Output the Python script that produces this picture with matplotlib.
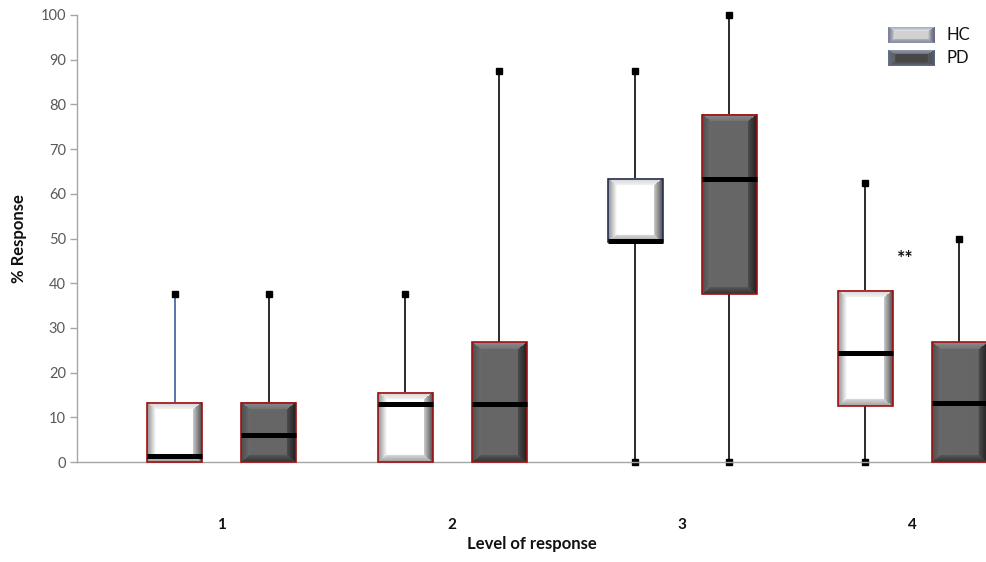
import numpy as np
import matplotlib
matplotlib.use('Agg')
import matplotlib.pyplot as plt
from matplotlib.patches import Rectangle

levels = ['1', '2', '3', '4']
series = ['HC', 'PD']

hc_min = [0, 0, 0, 0]
hc_q1 = [0, 0, 49.2, 12.5]
hc_med = [1.3, 13.0, 49.4, 24.4]
hc_q3 = [13.3, 15.5, 63.3, 38.3]
hc_max = [37.5, 37.5, 87.5, 62.5]

pd_min = [0, 0, 0, 0]
pd_q1 = [0, 0, 37.5, 0]
pd_med = [6.0, 13.0, 63.3, 13.2]
pd_q3 = [13.3, 26.8, 77.7, 26.8]
pd_max = [37.5, 87.5, 100, 50]

sig_label = '**'
sig_level = 4
sig_y = 45.6

plt.rcParams['font.family'] = ['Lato', 'DejaVu Sans']

W, H = 986, 562
fig = plt.figure(figsize=(W / 100, H / 100), dpi=100)
ax_l, ax_r, ax_t, ax_b = 77, 986, 15, 462
ax = fig.add_axes([ax_l / W, 1 - ax_b / H, (ax_r - ax_l) / W, (ax_b - ax_t) / H])
xmin, xmax = 0.37, 4.32
ax.set_xlim(xmin, xmax)
ax.set_ylim(0, 100)

px_per_x = (ax_r - ax_l) / (xmax - xmin)
px_per_y = (ax_b - ax_t) / 100.0

STYLE = {
    'HC': dict(center=1.0, top=(0.95, 0.82), left=(1.0, 0.55), right=(0.80, 0.30), bottom=(0.85, 0.62)),
    'PD': dict(center=0.40, top=(0.45, 0.55), left=(0.42, 0.30), right=(0.30, 0.12), bottom=(0.34, 0.20)),
}


def bevel_img(wpx, hpx, st, bx=9, by=7, tint=None):
    w = max(int(round(wpx)), 2)
    h = max(int(round(hpx)), 2)
    u = np.arange(w) + 0.5
    v = np.arange(h) + 0.5
    U, V = np.meshgrid(u, v)
    bxx = min(bx, w / 2)
    byy = min(by, h / 2)
    d = np.stack([V / byy, U / bxx, (w - U) / bxx, (h - V) / byy])
    face = np.argmin(d, axis=0)
    t = np.clip(np.min(d, axis=0), 0, 1)
    img = np.full((h, w), st['center'], dtype=float)
    keys = ['top', 'left', 'right', 'bottom']
    for k, key in enumerate(keys):
        inner, outer = st[key]
        m = (face == k) & (t < 1)
        img[m] = outer + (inner - outer) * t[m]
    rgb = np.dstack([img, img, img])
    if tint is not None:
        edge = (1 - t)[..., None]
        rgb = rgb * (1 - 0.6 * edge) + np.array(tint)[None, None, :] * 0.6 * edge
    return np.clip(rgb, 0, 1)


box_half = 27.5 / px_per_x
offset = 47 / px_per_x

data = {
    'HC': (hc_min, hc_q1, hc_med, hc_q3, hc_max),
    'PD': (pd_min, pd_q1, pd_med, pd_q3, pd_max),
}

for si, name in enumerate(series):
    mins, q1s, meds, q3s, maxs = data[name]
    for i in range(len(levels)):
        xc = (i + 1) + (-offset if si == 0 else offset)
        x0, x1 = xc - box_half, xc + box_half
        wcol = '#4a6aa5' if (name == 'HC' and i == 0) else '#1a1a1a'
        ax.plot([xc, xc], [q3s[i], maxs[i]], color=wcol, lw=1.3, zorder=1, clip_on=False)
        ax.plot([xc], [maxs[i]], marker='s', ms=3.8, color='black', zorder=1.5, clip_on=False)
        if q1s[i] > mins[i]:
            ax.plot([xc, xc], [mins[i], q1s[i]], color=wcol, lw=1.3, zorder=1, clip_on=False)
            ax.plot([xc], [mins[i]], marker='s', ms=3.8, color='black', zorder=1.5, clip_on=False)
        hpx = (q3s[i] - q1s[i]) * px_per_y
        img = bevel_img(2 * box_half * px_per_x, hpx, STYLE[name])
        ax.imshow(img, extent=[x0, x1, q1s[i], q3s[i]], aspect='auto',
                  interpolation='bilinear', zorder=2, clip_on=False)
        ec = '#2a2f55' if (name == 'HC' and i == 2) else '#a01010'
        ax.add_patch(Rectangle((x0, q1s[i]), x1 - x0, q3s[i] - q1s[i], fill=False,
                               edgecolor=ec, lw=1.2, zorder=3, clip_on=False))
        ax.plot([x0, x1], [meds[i], meds[i]], color='black', lw=3.6,
                solid_capstyle='butt', zorder=4, clip_on=False)

ax.set_xlim(xmin, xmax)
ax.set_ylim(0, 100)

ax.text(sig_level - 0.03, sig_y, sig_label, ha='center', va='center', fontsize=14,
        fontweight='bold', color='#111111')

for s in ['top', 'right']:
    ax.spines[s].set_visible(False)
ax.spines['left'].set_color('#a6a6a6')
ax.spines['bottom'].set_color('#a6a6a6')
ax.spines['left'].set_linewidth(1.0)
ax.spines['bottom'].set_linewidth(1.0)
ax.set_yticks(range(0, 101, 10))
ax.tick_params(axis='y', colors='#a6a6a6', labelcolor='#595959', labelsize=10.5, length=5, width=1, pad=3)
ax.set_xticks(range(1, len(levels) + 1))
ax.set_xticklabels(levels, fontweight='bold', fontsize=11, color='#111111')
ax.tick_params(axis='x', length=0, pad=40)
ax.set_xlabel('Level of response', fontweight='bold', fontsize=12, color='#111111', labelpad=3)
ax.set_ylabel('% Response', fontweight='bold', fontsize=12, color='#111111')
ax.yaxis.set_label_coords(-0.055, 0.5)
ax.set_facecolor('white')

leg_st = {
    'HC': dict(center=0.82, top=(0.92, 0.75), left=(0.9, 0.35), right=(0.85, 0.15), bottom=(0.7, 0.5)),
    'PD': dict(center=0.28, top=(0.45, 0.55), left=(0.4, 0.2), right=(0.35, 0.08), bottom=(0.3, 0.2)),
}
for k, name in enumerate(series):
    ly = 27 + k * 23
    lax = fig.add_axes([888 / W, 1 - (ly + 16) / H, 46 / W, 16 / H])
    lax.imshow(bevel_img(46, 16, leg_st[name], bx=7, by=4, tint=(0.55, 0.62, 0.78)),
               aspect='auto', interpolation='bilinear')
    lax.set_axis_off()
    fig.text(946 / W, 1 - (ly + 8) / H, name, ha='left', va='center', fontsize=12, color='#111111')

fig.savefig('out.png', dpi=100, facecolor='white')
